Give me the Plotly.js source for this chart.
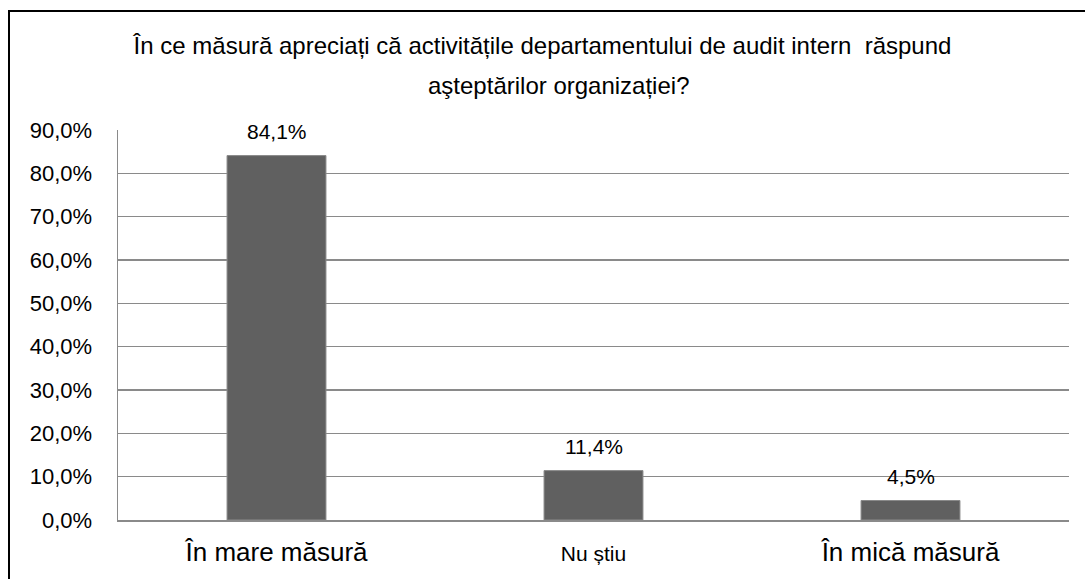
<!DOCTYPE html>
<html>
<head>
<meta charset="utf-8">
<script src="https://cdn.plot.ly/plotly-3.0.1.min.js"></script>
<style>
html,body{margin:0;padding:0;background:#fff;overflow:hidden;}
#wrap{position:relative;width:1085px;height:579px;}
#chart{position:absolute;left:0;top:0;width:1085px;height:579px;}
#frame{position:absolute;left:8px;top:10px;width:1100px;height:600px;border-left:2px solid #000;border-top:2px solid #000;pointer-events:none;}
</style>
</head>
<body>
<div id="wrap"><div id="chart"></div><div id="frame"></div></div>
<script>
const categories = ["În mare măsură", "Nu știu", "În mică măsură"];
const values = [0.841, 0.114, 0.045];
const tickLabelSizes = [26, 21, 26];
const titleLine1 = "În ce măsură apreciați că activitățile departamentului de audit intern  răspund";
const titleLine2 = "aşteptărilor organizației?";

const FONT = 'Liberation Sans, Arial, sans-serif';

const tickText = categories.map((c, i) => '<span style="font-size:' + tickLabelSizes[i] + 'px">' + c + '</span>');

function fmtPct(v) { return (v * 100).toFixed(1).replace('.', ',') + '%'; }

const trace = {
  type: 'bar',
  x: categories,
  y: values,
  marker: {color: '#606060', line: {color: '#8a8a8a', width: 1}},
  hoverinfo: 'none'
};

const valueLabels = categories.map((c, i) => ({
  x: c, y: values[i], xref: 'x', yref: 'y',
  text: fmtPct(values[i]),
  showarrow: false,
  yanchor: 'middle', xanchor: 'center',
  yshift: 24,
  font: {family: FONT, size: 21, color: '#000'}
}));

const layout = {
  width: 1085, height: 579,
  separators: ',.',
  paper_bgcolor: '#fff', plot_bgcolor: '#fff',
  margin: {l: 118, r: 16, t: 130, b: 59},
  bargap: 0.688,
  showlegend: false,
  font: {family: FONT, color: '#000'},
  title: {
    text: titleLine1,
    x: 0.5, xanchor: 'center', xref: 'container',
    y: 1 - 46 / 579, yanchor: 'middle',
    font: {family: FONT, size: 24, color: '#000'}
  },
  annotations: valueLabels.concat([{
    xref: 'paper', yref: 'paper', x: (558 - 118) / 951, y: (520 - 86) / 390,
    xanchor: 'center', yanchor: 'middle', showarrow: false,
    text: titleLine2,
    font: {family: FONT, size: 24, color: '#000'}
  }]),
  xaxis: {
    type: 'category',
    tickvals: categories,
    ticktext: tickText,
    showgrid: false,
    showline: true, linecolor: '#8a8a8a', linewidth: 1.5,
    ticks: '',
    ticklabelstandoff: 8,
    tickfont: {family: FONT, size: 26, color: '#000'},
    automargin: false
  },
  yaxis: {
    range: [0, 0.9],
    dtick: 0.1,
    tick0: 0,
    tickformat: '.1%',
    showgrid: true, gridcolor: '#8a8a8a', gridwidth: 1.5,
    showline: true, linecolor: '#8a8a8a', linewidth: 1.5,
    zeroline: false,
    ticks: '',
    ticklabelstandoff: 20,
    tickfont: {family: FONT, size: 22, color: '#000'},
    automargin: false
  }
};

Plotly.newPlot('chart', [trace], layout, {staticPlot: true, displayModeBar: false});
</script>
</body>
</html>
